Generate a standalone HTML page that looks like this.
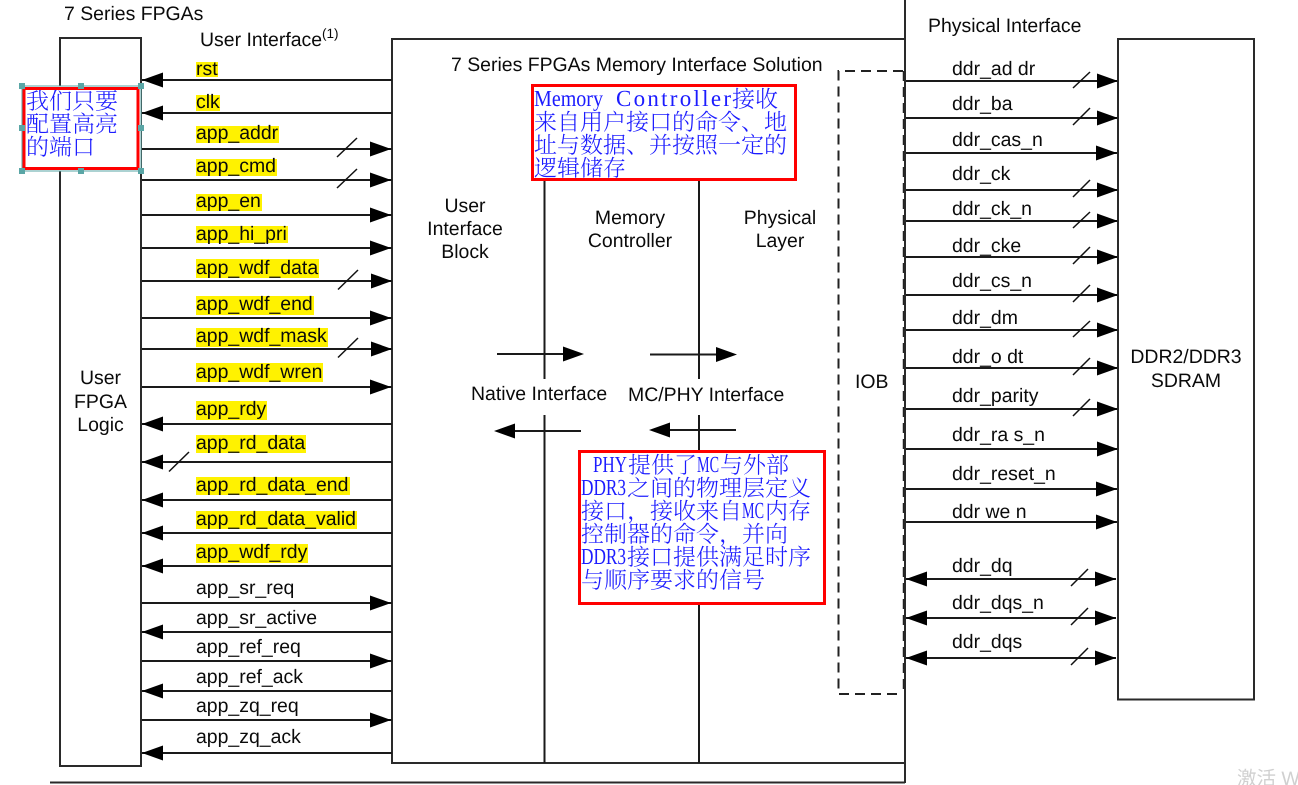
<!DOCTYPE html>
<html><head><meta charset="utf-8"><title>7 Series FPGAs Memory Interface Solution</title>
<style>
html,body{margin:0;padding:0;background:#fff;width:1298px;height:785px;overflow:hidden}
svg{display:block}
text{font-family:"Liberation Sans",sans-serif;font-size:19.45px;fill:#0a0a0a;text-rendering:geometricPrecision}
.c{text-anchor:middle}
.k{font-family:"Noto Serif CJK SC","Liberation Serif",serif;font-size:23px;font-weight:300;fill:#1c1cff}
.m{font-family:"Liberation Serif",serif;font-size:23px;fill:#1c1cff}
</style></head><body>
<svg width="1298" height="785" viewBox="0 0 1298 785" xmlns="http://www.w3.org/2000/svg">
<defs>
<polygon id="r" points="0,0 -21,-7.5 -21,7.5" fill="#000"/>
<polygon id="l" points="0,0 21,-7.5 21,7.5" fill="#000"/>
</defs>
<rect width="1298" height="785" fill="#fff"/>

<!-- highlights -->
<g fill="#fff200">
<rect x="196" y="62" width="22" height="15"/>
<rect x="196" y="95" width="24" height="16"/>
<rect x="196" y="126" width="83" height="17"/>
<rect x="196" y="159" width="81" height="17"/>
<rect x="196" y="194" width="66" height="17"/>
<rect x="196" y="226" width="92" height="17"/>
<rect x="196" y="259" width="123" height="19"/>
<rect x="196" y="296" width="118" height="19"/>
<rect x="196" y="328" width="132" height="19"/>
<rect x="196" y="363" width="127" height="19"/>
<rect x="196" y="401" width="71" height="19"/>
<rect x="196" y="435" width="110" height="18"/>
<rect x="196" y="477" width="154" height="18"/>
<rect x="196" y="511" width="161" height="18"/>
<rect x="196" y="544" width="112" height="19"/>
</g>

<!-- boxes -->
<g fill="none" stroke="#2a2a2a" stroke-width="2">
<rect x="60" y="38" width="81" height="728"/>
<rect x="392" y="39" width="513" height="724"/>
<rect x="1118" y="39" width="136" height="660.5"/>
<path d="M905 0V783M50 782.5H905"/>
</g>
<path d="M903 71H838.5V694H903" fill="none" stroke="#222" stroke-width="2" stroke-dasharray="10 6"/>
<path d="M903.5 71V694" fill="none" stroke="#222" stroke-width="1.5" stroke-dasharray="10 6"/>

<!-- connectors -->
<path fill="none" stroke="#1a1a1a" stroke-width="2" d="
M142 80H392M142 113H392M142 149H392M142 180H392M142 215H392M142 248H392M142 281H392M142 318H392M142 349H392M142 387H392M142 424H392M142 462H392M142 500H392M142 533H392M142 566H392M142 603H392M142 632H392M142 661H392M142 691H392M142 720H392M142 753H392
M906 81H1117M906 118H1117M906 153H1117M906 190H1117M906 221H1117M906 257H1117M906 295H1117M906 330H1117M906 368H1117M906 409H1117M906 449H1117M906 489H1117M906 522H1117M906 579H1116M906 618H1116M906 658H1116
M544.5 180V379M544.5 415V763M699 180V379M699 415V763
M497 354H570M650 354.5H724M510 431H581M665 430H736"/>

<g>
<use href="#l" x="142" y="80"/><use href="#l" x="142" y="113"/>
<use href="#r" x="391" y="149"/><use href="#r" x="391" y="180"/><use href="#r" x="391" y="215"/><use href="#r" x="391" y="248"/><use href="#r" x="392" y="281"/><use href="#r" x="391" y="318"/><use href="#r" x="392" y="349"/><use href="#r" x="391" y="387"/>
<use href="#l" x="142" y="424"/><use href="#l" x="142" y="462"/><use href="#l" x="142" y="500"/><use href="#l" x="142" y="533"/><use href="#l" x="142" y="566"/>
<use href="#r" x="391" y="603"/><use href="#l" x="142" y="632"/><use href="#r" x="391" y="661"/><use href="#l" x="142" y="691"/><use href="#r" x="391" y="720"/><use href="#l" x="142" y="753"/>
<use href="#r" x="1118" y="81"/><use href="#r" x="1118" y="118"/><use href="#r" x="1117" y="153"/><use href="#r" x="1118" y="190"/><use href="#r" x="1118" y="221"/><use href="#r" x="1118" y="257"/><use href="#r" x="1118" y="295"/><use href="#r" x="1118" y="330"/><use href="#r" x="1118" y="368"/><use href="#r" x="1118" y="409"/><use href="#r" x="1118" y="449"/><use href="#r" x="1117" y="489"/><use href="#r" x="1117" y="522"/>
<use href="#l" x="906" y="579"/><use href="#r" x="1116" y="579"/><use href="#l" x="906" y="618"/><use href="#r" x="1116" y="618"/><use href="#l" x="906" y="658"/><use href="#r" x="1116" y="658"/>
<use href="#r" x="584" y="354"/><use href="#r" x="737" y="354.5"/><use href="#l" x="494" y="431"/><use href="#l" x="649" y="430"/>
</g>

<!-- bus slashes -->
<path fill="none" stroke="#111" stroke-width="1.5" d="
M337 157L357 138M337 188L357 169M338 289.5L358 270M338 357.5L358 338M169 471.5L189 452
M1073 88L1090 72M1073 125L1090 108M1073 197L1090 180M1073 228L1090 212M1073 264L1090 247M1073 302L1090 285M1073 337L1090 321M1073 375L1090 358M1073 416L1090 399
M1071 586L1088 569M1071 625L1088 608M1071 665L1088 648"/>

<!-- left labels -->
<text x="64" y="20">7 Series FPGAs</text>
<text x="200" y="46">User Interface</text>
<text x="322" y="38" style="font-size:13.5px">(1)</text>
<text x="196" y="75">rst</text>
<text x="196" y="108">clk</text>
<text x="196" y="139">app_addr</text>
<text x="196" y="172">app_cmd</text>
<text x="196" y="207">app_en</text>
<text x="196" y="240">app_hi_pri</text>
<text x="196" y="274">app_wdf_data</text>
<text x="196" y="310">app_wdf_end</text>
<text x="196" y="342">app_wdf_mask</text>
<text x="196" y="378">app_wdf_wren</text>
<text x="196" y="415">app_rdy</text>
<text x="196" y="449">app_rd_data</text>
<text x="196" y="491">app_rd_data_end</text>
<text x="196" y="525">app_rd_data_valid</text>
<text x="196" y="558">app_wdf_rdy</text>
<text x="196" y="594">app_sr_req</text>
<text x="196" y="624">app_sr_active</text>
<text x="196" y="653">app_ref_req</text>
<text x="196" y="683">app_ref_ack</text>
<text x="196" y="712">app_zq_req</text>
<text x="196" y="743">app_zq_ack</text>
<text class="c" x="100.5" y="384">User</text>
<text class="c" x="100.5" y="408">FPGA</text>
<text class="c" x="100.5" y="431">Logic</text>

<!-- centre labels -->
<text x="451" y="71">7 Series FPGAs Memory Interface Solution</text>
<text class="c" x="465" y="212">User</text>
<text class="c" x="465" y="235">Interface</text>
<text class="c" x="465" y="258">Block</text>
<text class="c" x="630" y="224">Memory</text>
<text class="c" x="630" y="247">Controller</text>
<text class="c" x="780" y="224">Physical</text>
<text class="c" x="780" y="247">Layer</text>
<text x="471" y="400">Native Interface</text>
<text x="628" y="401">MC/PHY Interface</text>
<text x="855" y="388">IOB</text>

<!-- right labels -->
<text x="928" y="32">Physical Interface</text>
<text x="952" y="75">ddr_ad dr</text>
<text x="952" y="110">ddr_ba</text>
<text x="952" y="146">ddr_cas_n</text>
<text x="952" y="180">ddr_ck</text>
<text x="952" y="215">ddr_ck_n</text>
<text x="952" y="252">ddr_cke</text>
<text x="952" y="287">ddr_cs_n</text>
<text x="952" y="324">ddr_dm</text>
<text x="952" y="363">ddr_o dt</text>
<text x="952" y="402">ddr_parity</text>
<text x="952" y="441">ddr_ra s_n</text>
<text x="952" y="480">ddr_reset_n</text>
<text x="952" y="518">ddr we n</text>
<text x="952" y="572">ddr_dq</text>
<text x="952" y="609">ddr_dqs_n</text>
<text x="952" y="648">ddr_dqs</text>
<text class="c" x="1186" y="363">DDR2/DDR3</text>
<text class="c" x="1186" y="387">SDRAM</text>

<!-- annotation 1 -->
<rect x="532.5" y="85.5" width="263" height="94" fill="#fff" stroke="#f00" stroke-width="3"/>
<text class="m" x="534" y="106" textLength="69" lengthAdjust="spacingAndGlyphs">Memory</text>
<text class="m" x="616" y="106" textLength="115" lengthAdjust="spacing">Controller</text>
<text class="k" x="732" y="107">接收</text>
<text class="k" x="534" y="130">来自用户接口的命令、地</text>
<text class="k" x="534" y="153">址与数据、并按照一定的</text>
<text class="k" x="534" y="176">逻辑储存</text>

<!-- annotation 2 -->
<rect x="579.5" y="451.5" width="245" height="152" fill="#fff" stroke="#f00" stroke-width="3"/>
<text class="m" x="593" y="472" textLength="34" lengthAdjust="spacingAndGlyphs">PHY</text>
<text class="k" x="628" y="473">提供了</text>
<text class="m" x="697" y="472" textLength="22" lengthAdjust="spacingAndGlyphs">MC</text>
<text class="k" x="720" y="473">与外部</text>
<text class="m" x="581" y="495" textLength="45" lengthAdjust="spacingAndGlyphs">DDR3</text>
<text class="k" x="627" y="496">之间的物理层定义</text>
<text class="k" x="581" y="519">接口，接收来自</text>
<text class="m" x="742" y="518" textLength="22" lengthAdjust="spacingAndGlyphs">MC</text>
<text class="k" x="765" y="519">内存</text>
<text class="k" x="581" y="542">控制器的命令，并向</text>
<text class="m" x="581" y="564" textLength="45" lengthAdjust="spacingAndGlyphs">DDR3</text>
<text class="k" x="627" y="565">接口提供满足时序</text>
<text class="k" x="581" y="588">与顺序要求的信号</text>

<!-- annotation 3 (selected) -->
<rect x="22" y="86" width="119" height="85" fill="#fff" stroke="#5aa6a6" stroke-width="1"/>
<rect x="24" y="88.5" width="114" height="80" fill="#fff" stroke="#f00" stroke-width="3"/>
<g fill="#5aa6a6">
<rect x="19" y="83" width="6" height="6"/><rect x="78" y="83" width="6" height="6"/><rect x="138" y="83" width="6" height="6"/>
<rect x="19" y="125" width="6" height="6"/><rect x="138" y="125" width="6" height="6"/>
<rect x="19" y="168" width="6" height="6"/><rect x="78" y="168" width="6" height="6"/><rect x="138" y="168" width="6" height="6"/>
</g>
<text class="k" x="26" y="109">我们只要</text>
<text class="k" x="26" y="132">配置高亮</text>
<text class="k" x="26" y="155">的端口</text>

<!-- watermark -->
<text x="1237" y="785" style="font-family:'Liberation Sans','Noto Sans CJK SC',sans-serif;font-size:19.5px;fill:#d0d0d0">激活 W</text>
</svg>
</body></html>
